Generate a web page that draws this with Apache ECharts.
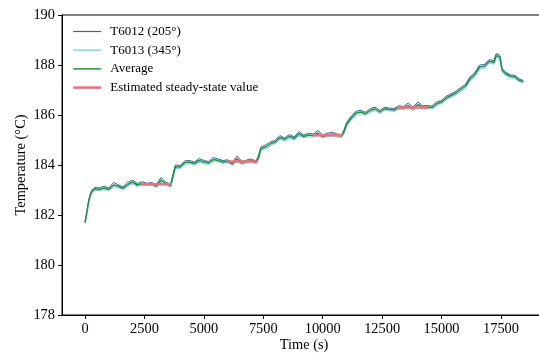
<!DOCTYPE html>
<html>
<head>
<meta charset="utf-8">
<script src="https://cdn.jsdelivr.net/npm/echarts@6/dist/echarts.min.js"></script>
<style>
  html, body { margin: 0; padding: 0; background: #fff; }
  #chart { width: 539px; height: 353px; }
</style>
</head>
<body>
<div id="chart"></div>
<script>
// time stamps (s)
const time = [0, 70, 140, 210, 280, 350, 420, 600, 800, 1000, 1200, 1400, 1600, 1800, 2000, 2200, 2400, 2600, 2800, 3000,
    3200, 3400, 3600, 3700, 3800, 4000, 4200, 4400, 4600, 4800, 5000, 5200, 5400, 5600, 5800, 6000, 6200, 6400, 6600, 6800,
    7000, 7200, 7300, 7400, 7600, 7800, 8000, 8200, 8400, 8600, 8800, 9000, 9200, 9400, 9600, 9800, 10000, 10200, 10400, 10600,
    10800, 10900, 11000, 11200, 11400, 11600, 11800, 12000, 12200, 12400, 12600, 12800, 13000, 13200, 13400, 13600, 13800, 14000, 14200, 14400,
    14600, 14800, 15000, 15200, 15400, 15600, 15800, 16000, 16200, 16400, 16600, 16800, 17000, 17200, 17300, 17450, 17550, 17700, 17900, 18100,
    18250, 18440];

const t6012 = [181.71, 182.10, 182.52, 182.80, 182.99, 183.07, 183.10, 183.09, 183.15, 183.08,
    183.30, 183.21, 183.12, 183.30, 183.40, 183.26, 183.33, 183.27, 183.30, 183.22,
    183.50, 183.31, 183.23, 183.62, 184.00, 183.98, 184.17, 184.18, 184.12, 184.26,
    184.18, 184.14, 184.30, 184.24, 184.18, 184.21, 184.10, 184.36, 184.14, 184.20,
    184.24, 184.16, 184.38, 184.72, 184.80, 184.92, 184.99, 185.18, 185.08, 185.22,
    185.12, 185.34, 185.20, 185.27, 185.24, 185.38, 185.20, 185.27, 185.31, 185.24,
    185.22, 185.42, 185.69, 185.95, 186.15, 186.19, 186.11, 186.25, 186.32, 186.18,
    186.31, 186.28, 186.26, 186.37, 186.34, 186.48, 186.31, 186.52, 186.37, 186.38,
    186.36, 186.53, 186.58, 186.75, 186.85, 186.95, 187.09, 187.22, 187.53, 187.69,
    188.00, 188.02, 188.22, 188.17, 188.46, 188.39, 187.86, 187.71, 187.61, 187.58,
    187.46, 187.38];

const t6013 = [181.67, 182.00, 182.42, 182.70, 182.88, 182.95, 182.99, 182.97, 183.02, 182.98,
    183.13, 183.09, 183.01, 183.15, 183.25, 183.14, 183.20, 183.16, 183.19, 183.10,
    183.32, 183.19, 183.12, 183.48, 183.86, 183.86, 184.03, 184.06, 184.00, 184.11,
    184.06, 184.02, 184.15, 184.12, 184.06, 184.09, 183.99, 184.16, 184.02, 184.08,
    184.12, 184.04, 184.22, 184.58, 184.65, 184.78, 184.86, 185.03, 184.96, 185.08,
    185.00, 185.17, 185.08, 185.13, 185.12, 185.19, 185.08, 185.14, 185.17, 185.12,
    185.10, 185.28, 185.55, 185.81, 186.01, 186.05, 185.99, 186.11, 186.18, 186.06,
    186.19, 186.16, 186.14, 186.23, 186.22, 186.29, 186.19, 186.33, 186.24, 186.26,
    186.24, 186.38, 186.46, 186.61, 186.71, 186.81, 186.95, 187.08, 187.37, 187.55,
    187.84, 187.88, 188.08, 188.03, 188.30, 188.25, 187.74, 187.59, 187.49, 187.46,
    187.34, 187.28];

const average = [181.69, 182.05, 182.47, 182.75, 182.93, 183.00, 183.05, 183.02, 183.08, 183.03,
    183.20, 183.15, 183.07, 183.22, 183.32, 183.20, 183.26, 183.22, 183.25, 183.16,
    183.40, 183.25, 183.18, 183.55, 183.93, 183.92, 184.10, 184.12, 184.06, 184.18,
    184.12, 184.08, 184.22, 184.18, 184.12, 184.15, 184.05, 184.25, 184.08, 184.14,
    184.18, 184.10, 184.30, 184.65, 184.72, 184.85, 184.92, 185.10, 185.02, 185.15,
    185.06, 185.25, 185.14, 185.20, 185.18, 185.28, 185.14, 185.20, 185.24, 185.18,
    185.16, 185.35, 185.62, 185.88, 186.08, 186.12, 186.05, 186.18, 186.25, 186.12,
    186.25, 186.22, 186.20, 186.30, 186.28, 186.38, 186.25, 186.42, 186.30, 186.32,
    186.30, 186.45, 186.52, 186.68, 186.78, 186.88, 187.02, 187.15, 187.45, 187.62,
    187.92, 187.95, 188.15, 188.10, 188.38, 188.32, 187.80, 187.65, 187.55, 187.52,
    187.40, 187.33];

// estimated steady-state plateaus
const steadyStart = [2350, 5990, 9570, 13120];
const steadyEnd = [3650, 7250, 10830, 14440];
const steadyValue = [183.23, 184.14, 185.19, 186.30];

const xTicks = [0, 2500, 5000, 7500, 10000, 12500, 15000, 17500];

const FONT = '"Liberation Serif", "DejaVu Serif", serif';

function pairs(ys) {
    return time.map((t, i) => [t, ys[i]]);
}

const steadySeries = steadyStart.map((s, i) => ({
    name: 'Estimated steady-state value',
    type: 'line',
    symbol: 'none',
    z: 5,
    lineStyle: {color: '#ef6f7b', width: 2.5},
    itemStyle: {color: '#ef6f7b'},
    data: [[s, steadyValue[i]], [steadyEnd[i], steadyValue[i]]],
}));

const chart = echarts.init(document.getElementById('chart'));
chart.setOption({
    animation: false,
    backgroundColor: '#fff',
    grid: {
        left: 62,
        top: 15,
        width: 484,
        height: 300,
        outerBoundsMode: 'none',
        containLabel: false,
        show: true,
        borderColor: '#000',
        borderWidth: 1,
        backgroundColor: 'transparent',
    },
    legend: {
        left: 67,
        top: 20,
        orient: 'vertical',
        itemWidth: 28,
        itemHeight: 10,
        itemGap: 5.7,
        itemStyle: {opacity: 0},
        textStyle: {
            fontFamily: FONT,
            fontSize: 13,
            color: '#000',
            padding: [0, 0, 0, 4],
        },
        data: [
            {name: 'T6012 (205°)', lineStyle: {width: 1.2}},
            {name: 'T6013 (345°)', lineStyle: {width: 1.5}},
            {name: 'Average', lineStyle: {width: 1.5}},
            {name: 'Estimated steady-state value', lineStyle: {width: 2.5}},
        ],
    },
    xAxis: {
        type: 'value',
        min: -968,
        max: 19394,
        name: 'Time (s)',
        nameLocation: 'middle',
        nameGap: 23,
        nameMoveOverlap: false,
        nameTextStyle: {fontFamily: FONT, fontSize: 14.4, color: '#000'},
        axisLine: {show: true, onZero: false, lineStyle: {color: '#000', width: 1}},
        axisTick: {show: true, inside: false, length: 4, customValues: xTicks, lineStyle: {color: '#000'}},
        axisLabel: {
            customValues: xTicks,
            margin: 7,
            fontFamily: FONT,
            fontSize: 14.4,
            color: '#000',
            formatter: (v) => String(v),
        },
        splitLine: {show: false},
    },
    yAxis: {
        type: 'value',
        min: 178,
        max: 190,
        interval: 2,
        name: 'Temperature (°C)',
        nameLocation: 'middle',
        nameRotate: 90,
        nameGap: 34,
        nameMoveOverlap: false,
        nameTextStyle: {fontFamily: FONT, fontSize: 14.4, color: '#000'},
        axisLine: {show: true, onZero: false, lineStyle: {color: '#000', width: 1}},
        axisTick: {show: true, inside: false, length: 4, lineStyle: {color: '#000'}},
        axisLabel: {margin: 7, fontFamily: FONT, fontSize: 14.4, color: '#000'},
        splitLine: {show: false},
    },
    series: [
        {
            name: 'T6012 (205°)',
            type: 'line',
            symbol: 'none',
            z: 2,
            lineStyle: {color: '#3266a8', width: 1},
            itemStyle: {color: '#3266a8'},
            data: pairs(t6012),
        },
        {
            name: 'T6013 (345°)',
            type: 'line',
            symbol: 'none',
            z: 3,
            lineStyle: {color: '#87cfea', width: 1.2},
            itemStyle: {color: '#87cfea'},
            data: pairs(t6013),
        },
        {
            name: 'Average',
            type: 'line',
            symbol: 'none',
            z: 4,
            lineStyle: {color: '#2a8f3a', width: 1.5},
            itemStyle: {color: '#2a8f3a'},
            data: pairs(average),
        },
    ].concat(steadySeries),
});
</script>
</body>
</html>
